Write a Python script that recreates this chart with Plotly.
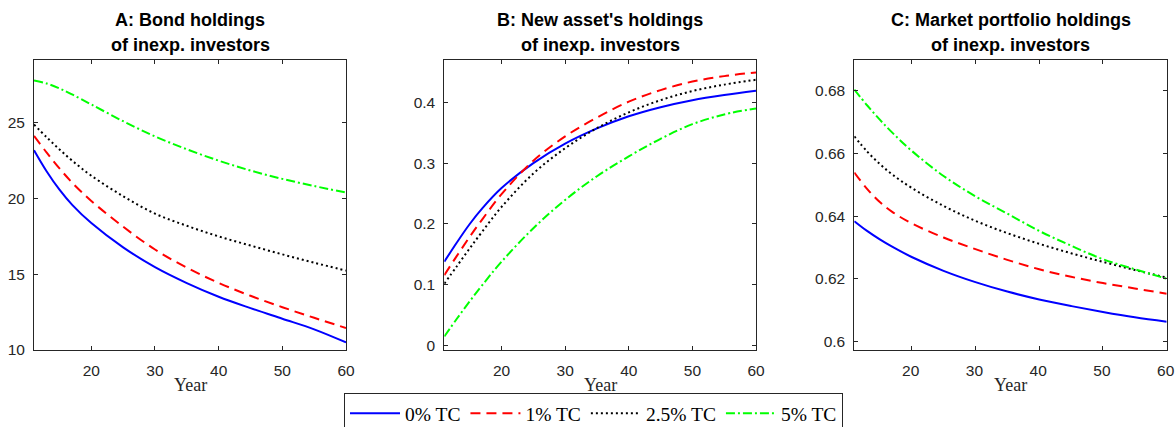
import plotly.graph_objects as go

W, H = 1175, 427

years = [11, 13, 15, 17, 20, 25, 30, 35, 40, 45, 50, 55, 60]
series_names = ["0% TC", "1% TC", "2.5% TC", "5% TC"]

# Panel A: Bond holdings of inexp. investors
bond_0 = [23.16, 21.76, 20.56, 19.56, 18.36, 16.76, 15.46, 14.41, 13.51, 12.76, 12.06, 11.36, 10.5]
bond_1 = [24.1, 23.0, 21.96, 21.02, 19.82, 18.12, 16.62, 15.42, 14.42, 13.57, 12.82, 12.12, 11.45]
bond_25 = [24.85, 24.01, 23.21, 22.47, 21.48, 20.13, 18.98, 18.18, 17.48, 16.88, 16.3, 15.75, 15.23]
bond_5 = [27.75, 27.55, 27.23, 26.83, 26.17, 25.07, 24.07, 23.22, 22.47, 21.82, 21.27, 20.8, 20.37]

# Panel B: New asset's holdings of inexp. investors
new_0 = [0.138, 0.17, 0.2, 0.226, 0.259, 0.3, 0.332, 0.357, 0.377, 0.392, 0.4035, 0.412, 0.419]
new_1 = [0.116, 0.148, 0.179, 0.208, 0.249, 0.304, 0.344, 0.375, 0.401, 0.42, 0.434, 0.443, 0.449]
new_25 = [0.102, 0.131, 0.16, 0.188, 0.228, 0.283, 0.3245, 0.3575, 0.3835, 0.4035, 0.4185, 0.429, 0.437]
new_5 = [0.015, 0.0446, 0.073, 0.1, 0.138, 0.193, 0.2395, 0.2785, 0.311, 0.34, 0.364, 0.38, 0.39]

# Panel C: Market portfolio holdings of inexp. investors
mkt_0 = [0.6384, 0.6353, 0.6326, 0.6302, 0.627, 0.6226, 0.619, 0.616, 0.6135, 0.6114, 0.6095, 0.6078, 0.6064]
mkt_1 = [0.6539, 0.6487, 0.6445, 0.6413, 0.6377, 0.6332, 0.6295, 0.6261, 0.6231, 0.6207, 0.6187, 0.617, 0.6153]
mkt_25 = [0.6654, 0.6606, 0.6566, 0.6532, 0.649, 0.64325, 0.6385, 0.6346, 0.6312, 0.6282, 0.62545, 0.62285, 0.62045]
mkt_5 = [0.6803, 0.6753, 0.6707, 0.6665, 0.6608, 0.6528, 0.6463, 0.6408, 0.6353, 0.6306, 0.6263, 0.6231, 0.6201]

titles = [["A: Bond holdings", "of inexp. investors"],
          ["B: New asset's holdings", "of inexp. investors"],
          ["C: Market portfolio holdings", "of inexp. investors"]]
x_ticks = [20, 30, 40, 50, 60]
y_ticks = [[10, 15, 20, 25],
           [0, 0.1, 0.2, 0.3, 0.4],
           [0.6, 0.62, 0.64, 0.66, 0.68]]
y_ticklabels = [["10", "15", "20", "25"],
                ["0", "0.1", "0.2", "0.3", "0.4"],
                ["0.6", "0.62", "0.64", "0.66", "0.68"]]
y_ranges = [[10, 29.1], [-0.0071, 0.4695], [0.5974, 0.6897]]
x_range = [11, 60]

colors = ["#0000FF", "#FF0000", "#000000", "#00FF00"]
dashes = ["solid", "10px,6px", "2px,3px", "9px,3px,2px,3px"]

panel_data = [[bond_0, bond_1, bond_25, bond_5],
              [new_0, new_1, new_25, new_5],
              [mkt_0, mkt_1, mkt_25, mkt_5]]

# pixel geometry of plot areas
px_left = [34, 444.3, 854.3]
px_right = [346, 756, 1166.7]
px_top, px_bottom = 60, 350
x_label_shift = [0, 0, -1]

axis_col = "#262626"
tick_font = dict(family="Liberation Sans, Arial", size=15.5, color=axis_col)
fig = go.Figure()

for p in range(3):
    xa = "x" if p == 0 else f"x{p+1}"
    ya = "y" if p == 0 else f"y{p+1}"
    for s in range(4):
        fig.add_trace(go.Scatter(
            x=years, y=panel_data[p][s], mode="lines", name=series_names[s],
            line=dict(color=colors[s], width=2, dash=dashes[s], shape="spline", smoothing=1.0),
            xaxis=xa, yaxis=ya, showlegend=(p == 0)))
    xkey = "xaxis" if p == 0 else f"xaxis{p+1}"
    ykey = "yaxis" if p == 0 else f"yaxis{p+1}"
    fig.layout[xkey] = dict(
        domain=[px_left[p] / W, px_right[p] / W], range=x_range, anchor=ya,
        tickvals=x_ticks, ticks="inside", ticklen=4, tickcolor=axis_col,
        showline=True, linecolor=axis_col, linewidth=1, mirror="ticks",
        showgrid=False, zeroline=False, automargin=False,
        ticklabelstandoff=6, ticklabelshift=x_label_shift[p],
        ticklabeloverflow="allow", tickfont=tick_font)
    fig.layout[ykey] = dict(
        domain=[1 - px_bottom / H, 1 - px_top / H], range=y_ranges[p], anchor=xa,
        tickvals=y_ticks[p], ticktext=y_ticklabels[p], ticks="inside", ticklen=4,
        tickcolor=axis_col, showline=True, linecolor=axis_col, linewidth=1,
        mirror="ticks", showgrid=False, zeroline=False, automargin=False,
        ticklabelstandoff=5, ticklabeloverflow="allow", tickfont=tick_font)
    cx = (px_left[p] + px_right[p]) / 2 / W
    for line_i, ypx in enumerate([20, 45]):
        fig.add_annotation(text=titles[p][line_i], x=cx, y=1 - ypx / H, xref="paper", yref="paper",
                           showarrow=False, xanchor="center", yanchor="middle",
                           font=dict(family="Liberation Sans, Arial", size=18, color="#000000",
                                     weight="bold"))
    fig.add_annotation(text="Year", x=cx, y=1 - 385 / H, xref="paper", yref="paper",
                       showarrow=False, xanchor="center", yanchor="middle",
                       font=dict(family="Liberation Serif, Times New Roman", size=18, color=axis_col))

fig.update_layout(
    width=W, height=H,
    margin=dict(l=0, r=0, t=0, b=0, autoexpand=False),
    paper_bgcolor="white", plot_bgcolor="white",
    showlegend=True,
    legend=dict(orientation="h", x=344 / W, y=1 - 393 / H, xanchor="left", yanchor="top",
                bordercolor=axis_col, borderwidth=1, bgcolor="white",
                font=dict(family="Liberation Serif, Times New Roman", size=19.5, color="#000000"),
                itemwidth=50, tracegroupgap=0),
)

fig.write_html("out.html", config={"displayModeBar": False},
               post_script="document.body.style.margin='0';document.body.style.overflow='hidden';")
